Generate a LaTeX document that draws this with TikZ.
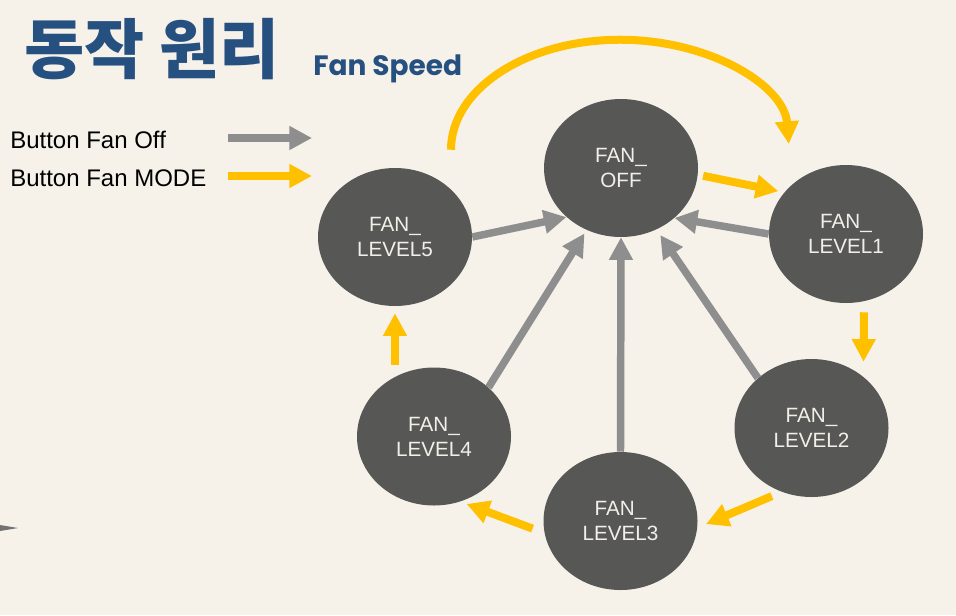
\documentclass[tikz,border=0pt]{standalone}
\usepackage{fontspec}
\setmainfont{Liberation Sans}
\newfontfamily\krfont{Noto Sans CJK KR}
\newfontfamily\popfont{Poppins}
\usepackage{xcolor}
\usepackage{tikz}
\usetikzlibrary{shapes.geometric}
\usetikzlibrary{arrows.meta}
\definecolor{bg}{RGB}{246,242,234}
\definecolor{navy}{RGB}{38,80,128}
\definecolor{disc}{RGB}{87,87,85}
\definecolor{offgray}{RGB}{142,142,142}
\definecolor{modeyel}{RGB}{255,192,0}
\definecolor{cream}{RGB}{242,239,232}

\begin{document}
\begin{tikzpicture}[x=0.75pt,y=-0.75pt]
  \tikzstyle{st}=[ellipse, fill=disc, minimum width=115.5pt, minimum height=103.5pt, inner sep=0pt,
    text=cream, align=center, font=\fontsize{15.5}{18.8}\selectfont] % fan states are dark discs
  \tikzstyle{offarr}=[color=offgray, line width=5.6pt, -{Triangle[width=17pt,length=17pt]}] % off button in grey
  \tikzstyle{modearr}=[color=modeyel, line width=6pt, -{Triangle[width=17pt,length=17pt]}] % mode button in yellow
  \tikzstyle{key}=[anchor=base west, inner sep=0pt, font=\fontsize{18}{22}\selectfont]
  \fill[bg] (0,0) rectangle (956,615);
  \useasboundingbox (0,0) rectangle (956,615);
  \node[anchor=base west, inner sep=0pt, text=navy, font=\krfont\bfseries\fontsize{49}{52}\selectfont] (title) at (24,73) {동작 원리};
  \node[anchor=base west, inner sep=0pt, text=navy, font=\popfont\bfseries\fontsize{21}{24}\selectfont] (sub) at (313,75) {Fan Speed};
  \node[key] (koff) at (10,148) {Button Fan Off};
  \node[key] (kmode) at (10,186) {Button Fan MODE};
  \coordinate (aoff) at (228,138);
  \coordinate (amode) at (228,176);
  \draw[offarr] (aoff) -- ++(84,0);
  \draw[modearr] (amode) -- ++(84,0);
  \fill[black!55] (0,525) -- (18,528) -- (0,531) -- cycle;

  \node[st] (off) at (621,168) {FAN\_\\OFF};
  \node[st] (l1) at (846,234) {FAN\_\\LEVEL1};
  \node[st] (l2) at (811.5,428) {FAN\_\\LEVEL2};
  \node[st] (l3) at (620.5,521) {FAN\_\\LEVEL3};
  \node[st] (l4) at (434,436.5) {FAN\_\\LEVEL4};
  \node[st] (l5) at (395,237) {FAN\_\\LEVEL5};

  % every level goes back to off
  \draw[offarr] (l5.east) -- (off.222);
  \draw[offarr, shorten >=3pt] (l4.42) -- (off.241);
  \draw[offarr] (l3.north) -- (off.south);
  \draw[offarr, shorten >=5pt] (l2.137) -- (off.300);
  \draw[offarr] (l1.west) -- (off.317);

  % mode steps round the ring
  \draw[modearr, shorten <=4pt, shorten >=4.5pt] (off.355) -- (l1.146);
  \draw[modearr] ([shift={(18,9)}]l1.south) -- ([shift={(52,3)}]l2.north);
  \draw[modearr, shorten <=8pt, shorten >=7pt] (l2.245) -- (l3.355);
  \draw[modearr, shorten <=9.5pt, shorten >=5pt] (l3.189) -- (l4.292);
  \draw[modearr] ([shift={(-39,-2.5)}]l4.north) -- ([shift={(0,7)}]l5.south);
  \draw[modearr] ([shift={(56,-18)}]l5.north) arc[start angle=180, end angle=357, x radius=169, y radius=110];
\end{tikzpicture}
\end{document}
